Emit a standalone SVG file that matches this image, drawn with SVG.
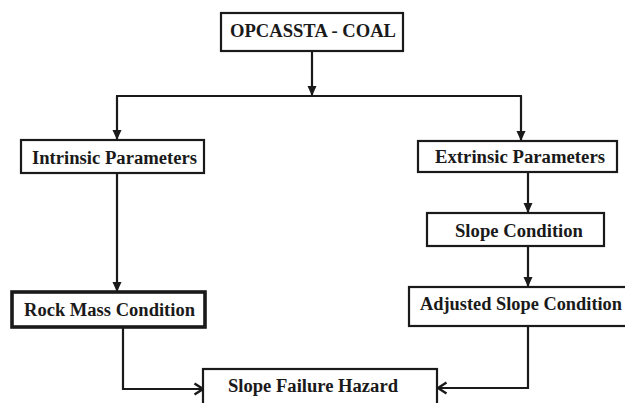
<svg xmlns="http://www.w3.org/2000/svg" width="625" height="403" viewBox="0 0 625 403">
  <style>
    .box { fill: #ffffff; stroke: #1a1a1a; stroke-width: 2.2; }
    .thick { stroke-width: 3.6; }
    .lbl { font-family: "Liberation Serif", "Times New Roman", serif; font-weight: bold; font-size: 18.5px; fill: #1a1a1a; }
    .conn { fill: none; stroke: #1a1a1a; stroke-width: 2.2; }
  </style>
  <defs>
    <marker id="arrow" markerUnits="userSpaceOnUse" markerWidth="10" markerHeight="10" viewBox="0 0 10 10" refX="10" refY="5" orient="auto">
      <path d="M0,0.5 L10,5 L0,9.5 z" fill="#1a1a1a"/>
    </marker>
    <marker id="open" markerUnits="userSpaceOnUse" markerWidth="12" markerHeight="14" viewBox="0 0 12 14" refX="10.5" refY="7" orient="auto">
      <path d="M2,1.5 L10.5,7 L2,12.5" fill="none" stroke="#1a1a1a" stroke-width="2.4"/>
    </marker>
  </defs>

  <g id="connectors">
    <line class="conn" x1="312" y1="51" x2="312" y2="96" marker-end="url(#arrow)"/>
    <line class="conn" x1="116" y1="96" x2="522" y2="96"/>
    <path class="conn" d="M117,96 V140" marker-end="url(#arrow)"/>
    <path class="conn" d="M521,96 V141" marker-end="url(#arrow)"/>
    <path class="conn" d="M117,173 V292" marker-end="url(#arrow)"/>
    <path class="conn" d="M528,172 V213" marker-end="url(#arrow)"/>
    <path class="conn" d="M528,246 V287" marker-end="url(#arrow)"/>
    <path class="conn" d="M123,327 V389 H203" marker-end="url(#open)"/>
    <path class="conn" d="M528,326 V388 H438" marker-end="url(#open)"/>
  </g>

  <g id="opcassta">
    <rect class="box" x="221" y="13" width="182" height="38"/>
    <text class="lbl" x="230" y="37" font-size="19.5" textLength="166" lengthAdjust="spacingAndGlyphs">OPCASSTA - COAL</text>
  </g>
  <g id="intrinsic">
    <rect class="box" x="21" y="140" width="183" height="33"/>
    <text class="lbl" x="32" y="164" textLength="165" lengthAdjust="spacingAndGlyphs">Intrinsic Parameters</text>
  </g>
  <g id="extrinsic">
    <rect class="box" x="418" y="141" width="199" height="31"/>
    <text class="lbl" x="435" y="163" textLength="170" lengthAdjust="spacingAndGlyphs">Extrinsic Parameters</text>
  </g>
  <g id="slope-condition">
    <rect class="box" x="427" y="213" width="177" height="33"/>
    <text class="lbl" x="455" y="237" textLength="128" lengthAdjust="spacingAndGlyphs">Slope Condition</text>
  </g>
  <g id="adjusted-slope">
    <rect class="box" x="409" y="287" width="222" height="39"/>
    <text class="lbl" x="420" y="310" textLength="202" lengthAdjust="spacingAndGlyphs">Adjusted Slope Condition</text>
  </g>
  <g id="rock-mass">
    <rect class="box thick" x="12" y="292" width="193" height="35"/>
    <text class="lbl" x="24" y="316" textLength="171" lengthAdjust="spacingAndGlyphs">Rock Mass Condition</text>
  </g>
  <g id="slope-failure">
    <rect class="box" x="203" y="369" width="234" height="44"/>
    <text class="lbl" x="228" y="392" textLength="170" lengthAdjust="spacingAndGlyphs">Slope Failure Hazard</text>
  </g>
</svg>
